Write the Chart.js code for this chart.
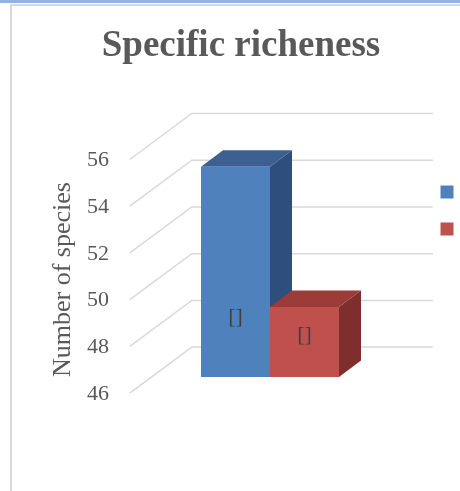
<!DOCTYPE html>
<html>
<head>
<meta charset="utf-8">
<script src="https://cdn.jsdelivr.net/npm/chart.js@4.4.0/dist/chart.umd.min.js"></script>
<style>
  html, body { margin: 0; padding: 0; background: #fff; overflow: hidden; width: 460px; height: 491px; }
  #topbar { position: absolute; left: 0; top: 0; width: 460px; height: 3px; background: #8eb4e3; }
  #frame { position: absolute; left: 10px; top: 4px; width: 470px; height: 500px; border-left: 2px solid #d9d9d9; border-top: 2px solid #d9d9d9; }
  #chart { position: absolute; left: 12px; top: 6px; }
</style>
</head>
<body>
<div id="topbar"></div>
<div id="frame"></div>
<canvas id="chart" width="458" height="485"></canvas>
<script>
// data
const categories = [''];
const seriesNames = ['', ''];          // legend text is cut off in the original
const seriesValues = [[55], [49]];
const dataLabels = ['[]', '[]'];
const yTicks = [46, 48, 50, 52, 54, 56];

const frontColors = ['#4f81bd', '#c0504d'];
const topColors = ['#3b6091', '#9b3c39'];
const sideColors = ['#2e4f7d', '#7e2e2c'];

// 3d projection offsets (pixels)
const FRONT = { dx: -21.7, dy: 16.1 };
const BACK = { dx: 40.3, dy: -29.9 };
const BAR = { dx: 22, dy: -16.5 };

const serif = '"Liberation Serif", "Times New Roman", serif';

// bars start at the axis minimum, not at zero
function barBox(chart, bar) {
    const p = bar.getProps(['x', 'y', 'width'], true);
    const base = chart.scales.y.getPixelForValue(chart.scales.y.min);
    return { l: p.x - p.width / 2, r: p.x + p.width / 2, x: p.x, top: p.y, base };
}

const depth3d = {
    id: 'depth3d',
    beforeDatasetsDraw(chart) {
        const { ctx, chartArea } = chart;
        const y = chart.scales.y;
        const wallL = chartArea.left + 28;
        const wallR = chartArea.right - 24;
        ctx.save();
        ctx.strokeStyle = '#d9d9d9';
        ctx.lineWidth = 1.5;
        yTicks.forEach((v) => {
            const py = y.getPixelForValue(v);
            ctx.beginPath();
            ctx.moveTo(wallL + FRONT.dx, py + FRONT.dy);
            ctx.lineTo(wallL + BACK.dx, py + BACK.dy);
            ctx.lineTo(wallR + BACK.dx, py + BACK.dy);
            ctx.stroke();
        });
        chart.data.datasets.forEach((ds, i) => {
            chart.getDatasetMeta(i).data.forEach((bar) => {
                const b = barBox(chart, bar);
                ctx.fillStyle = topColors[i];
                ctx.beginPath();
                ctx.moveTo(b.l, b.top);
                ctx.lineTo(b.r, b.top);
                ctx.lineTo(b.r + BAR.dx, b.top + BAR.dy);
                ctx.lineTo(b.l + BAR.dx, b.top + BAR.dy);
                ctx.closePath();
                ctx.fill();
                ctx.fillStyle = sideColors[i];
                ctx.beginPath();
                ctx.moveTo(b.r, b.top);
                ctx.lineTo(b.r + BAR.dx, b.top + BAR.dy);
                ctx.lineTo(b.r + BAR.dx, b.base + BAR.dy);
                ctx.lineTo(b.r, b.base);
                ctx.closePath();
                ctx.fill();
            });
        });
        ctx.restore();
    },
    afterDatasetsDraw(chart) {
        const { ctx } = chart;
        ctx.save();
        ctx.font = '22px ' + serif;
        ctx.fillStyle = '#404040';
        ctx.textAlign = 'center';
        ctx.textBaseline = 'middle';
        chart.data.datasets.forEach((ds, i) => {
            chart.getDatasetMeta(i).data.forEach((bar) => {
                const b = barBox(chart, bar);
                const h = b.base - b.top;
                ctx.fillText(dataLabels[i], b.x, b.base - Math.min(60, h * 0.6));
            });
        });
        ctx.restore();
    }
};

new Chart(document.getElementById('chart'), {
    type: 'bar',
    data: {
        labels: categories,
        datasets: seriesNames.map((name, i) => ({
            label: name,
            data: seriesValues[i],
            backgroundColor: frontColors[i],
            borderWidth: 0,
            barPercentage: 1,
            categoryPercentage: 0.471
        }))
    },
    options: {
        responsive: false,
        animation: false,
        layout: { padding: { left: 0, right: 0, top: 0, bottom: 114 } },
        plugins: {
            title: {
                display: true,
                text: 'Specific richeness',
                color: '#595959',
                font: { family: serif, size: 37, weight: 'bold' },
                padding: { top: 18, bottom: 75 }
            },
            legend: {
                position: 'right',
                title: { display: true, text: ' ', font: { size: 15 }, padding: 10 },
                labels: { boxWidth: 13, boxHeight: 13, padding: 24, font: { size: 13 } }
            },
            tooltip: { enabled: false }
        },
        scales: {
            x: { display: false },
            y: {
                min: 46,
                max: 56,
                afterFit: (scale) => { scale.width = 111.5; },
                ticks: {
                    stepSize: 2,
                    color: '#595959',
                    font: { family: serif, size: 22 },
                    padding: 14.5,
                    labelOffset: 17
                },
                grid: { display: false, drawTicks: false },
                border: { display: false },
                title: {
                    display: true,
                    text: 'Number of species',
                    color: '#595959',
                    font: { family: serif, size: 26 },
                    align: 'start',
                    padding: { top: 36, bottom: 0 }
                }
            }
        }
    },
    plugins: [depth3d]
});
</script>
</body>
</html>
